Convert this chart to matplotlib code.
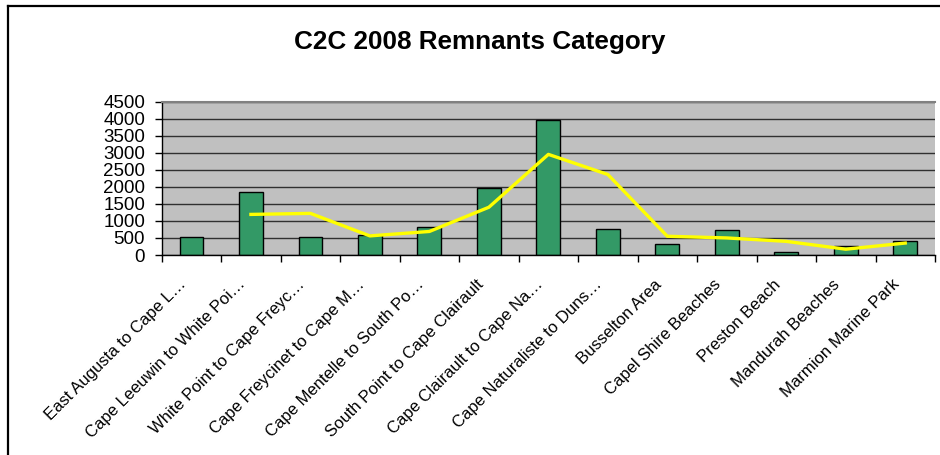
#------------------------------------------------------------------------------
#
# C2C 2008 remnants by category - bar chart with a trend line on top
#
#------------------------------------------------------------------------------

import matplotlib as mpl
import matplotlib.pyplot as plt
from matplotlib.lines import Line2D
from matplotlib.transforms import ScaledTranslation

import numpy as np

mpl.rcParams['font.family'] = ['Liberation Sans', 'DejaVu Sans']

# Data
categories = ['East Augusta to Cape L…', 'Cape Leeuwin to White Poi…',
              'White Point to Cape Freyc…', 'Cape Freycinet to Cape M…',
              'Cape Mentelle to South Po…', 'South Point to Cape Clairault',
              'Cape Clairault to Cape Na…', 'Cape Naturaliste to Duns…',
              'Busselton Area', 'Capel Shire Beaches', 'Preston Beach',
              'Mandurah Beaches', 'Marmion Marine Park']
remnants = [540, 1850, 540, 590, 810, 1950, 3950, 770, 320, 730, 80, 270, 410]
# yellow trend line (no point for the first category)
trend = [np.nan, 1190, 1220, 560, 690, 1400, 2950, 2360, 550, 500, 400, 170, 350]
y_ticks = list(range(0, 5000, 500))

#------------------------------------------------------------------------------
def draw_chart() -> None:
    fig = plt.figure(figsize=(9.4, 4.55), dpi=100)
    ax = fig.add_axes([161.7 / 940, 1 - 255 / 455, (935 - 161.7) / 940, 153.5 / 455])

    x = np.arange(len(categories))
    ax.set_facecolor('#C0C0C0')
    ax.set_axisbelow(True)
    ax.yaxis.grid(True, color='#303030', linewidth=1.0)

    ax.bar(x, remnants, 0.4, color='#339966', edgecolor='black', linewidth=1.0,
           zorder=2)
    ax.plot(x, trend, '-', color='#FFFF00', linewidth=2.4, zorder=3)

    ax.set_xlim(-0.5, len(categories) - 0.5)
    ax.set_ylim(0, 4500)
    ax.set_yticks(y_ticks)
    ax.set_yticklabels([str(v) for v in y_ticks], fontsize=13.5)
    ax.tick_params(axis='y', direction='out', length=5, width=1, pad=7)

    # tick marks sit on the category boundaries, labels are drawn as
    # rotated texts hanging below each bar centre
    ax.set_xticks(np.arange(-0.5, len(categories), 1.0))
    ax.set_xticklabels([])
    ax.tick_params(axis='x', direction='out', length=5, width=1)

    # shift the anchor a little left and down from the bar centre
    offset = ScaledTranslation(-8 / 100, -27 / 100, fig.dpi_scale_trans)
    for xi, name in zip(x, categories):
        ax.text(xi, 0, name, rotation=45, rotation_mode='anchor',
                ha='right', va='center', fontsize=12,
                transform=ax.get_xaxis_transform() + offset)

    ax.spines['right'].set_visible(False)
    ax.spines['top'].set_color('#808080')
    ax.spines['top'].set_linewidth(1.5)
    ax.spines['left'].set_linewidth(1.0)
    ax.spines['bottom'].set_linewidth(1.0)

    fig.text(480 / 940, 1 - 41.5 / 455, 'C2C 2008 Remnants Category',
             ha='center', va='center', fontsize=18.8, fontweight='bold')

    # outer chart frame (only left and top edges fall inside the picture)
    fig.add_artist(Line2D([8 / 940, 8 / 940], [0, 1 - 6 / 455], color='black',
                          linewidth=1.6, transform=fig.transFigure))
    fig.add_artist(Line2D([8 / 940, 1], [1 - 6 / 455, 1 - 6 / 455], color='black',
                          linewidth=1.6, transform=fig.transFigure))

    fig.savefig('out.png', dpi=100)

#------------------------------------------------------------------------------
if __name__ == '__main__':
    draw_chart()
